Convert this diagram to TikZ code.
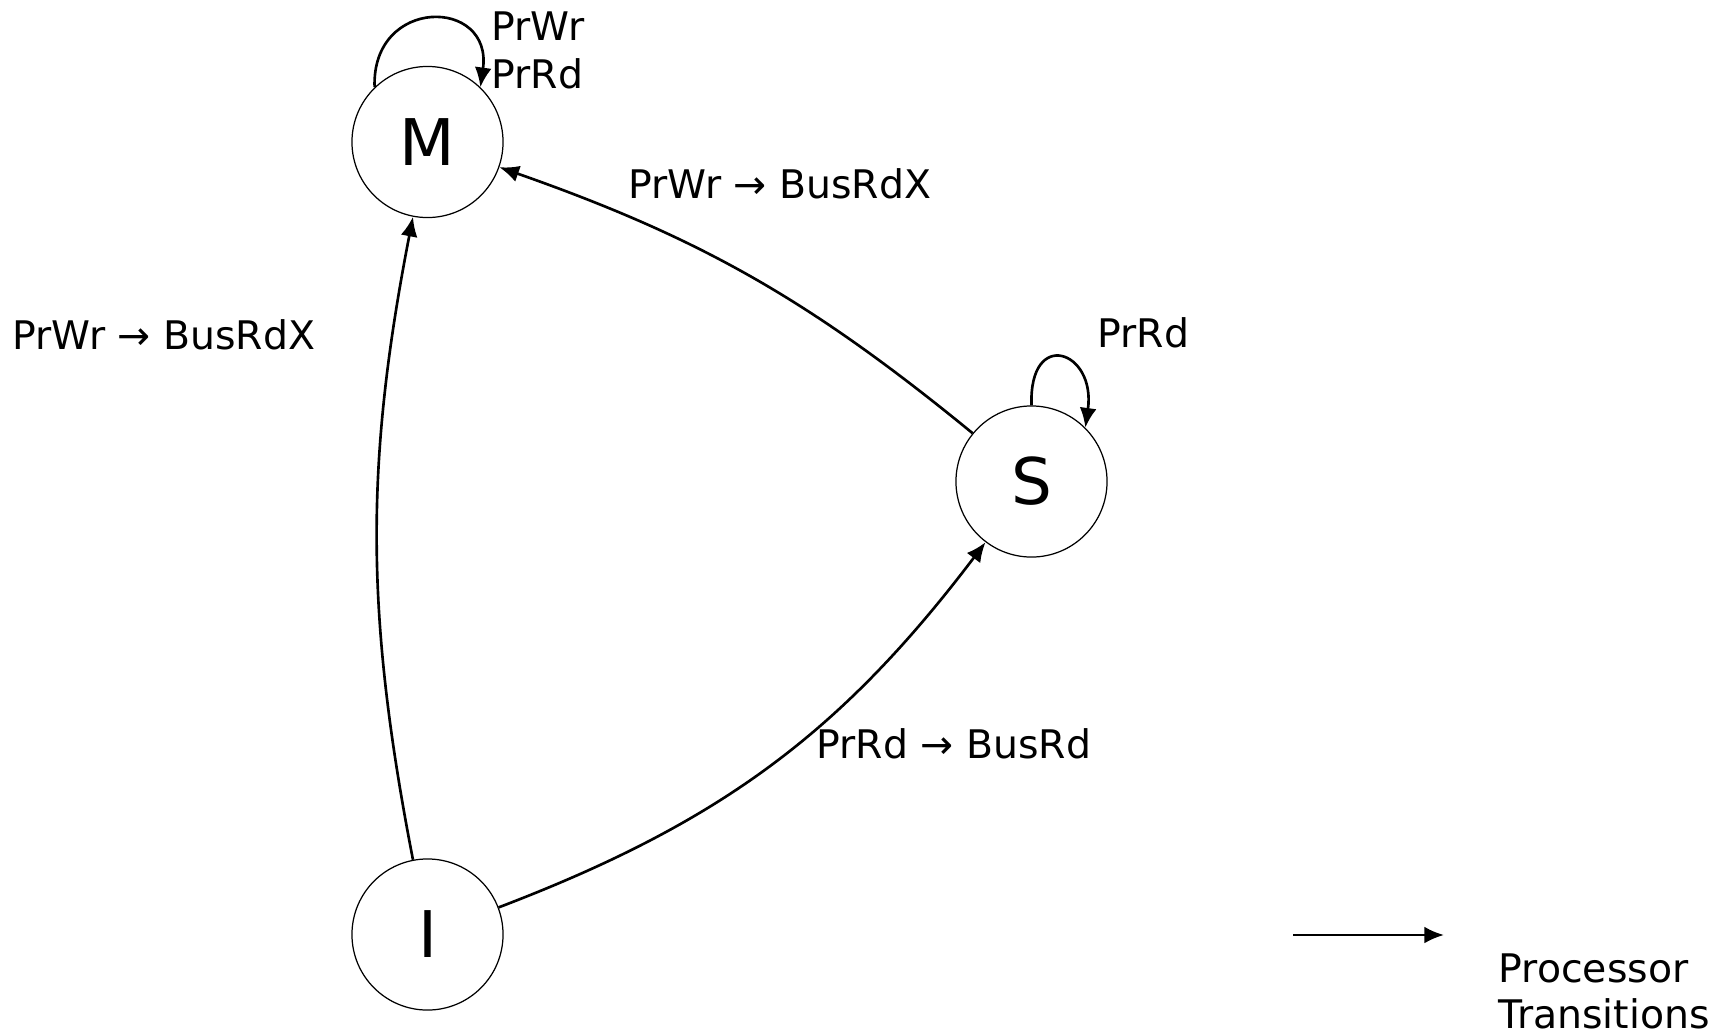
\documentclass[tikz,border=0pt]{standalone}
\usepackage{fontspec}
\setmainfont{DejaVu Sans}
\usetikzlibrary{arrows.meta}
\begin{document}
\begin{tikzpicture}[x=0.01cm,y=-0.01cm,
  state/.style={circle,draw,line width=0.35pt,minimum size=1.51cm,inner sep=0pt,
    font=\fontsize{18.3}{22}\selectfont},
  edge/.style={line width=0.75pt,-{Latex[length=5.6pt,width=4.8pt]}},
  lbl/.style={anchor=base west,inner sep=0pt,text depth=0pt,font=\fontsize{11.2}{13.7}\selectfont}]
\useasboundingbox (0,0) rectangle (1727,1033);

% states
\node[state] (M) at (427.5,142) {M};
\node[state] (S) at (1031.5,481.5) {S};
\node[state] (I) at (427.5,934.5) {I};

% transitions
\draw[edge] (I) to[bend left=11] (M);
\draw[edge] (S) to[bend right=10] (M);
\draw[edge] (I) to[bend right=16] (S);
\draw[edge] (M.134) .. controls +(92:0.91cm) and +(82:0.91cm) .. (M.46);
\draw[edge] (S.90) .. controls +(92:0.78cm) and +(82:0.78cm) .. (S.45.5);

% transition labels
\node[lbl] (tSM) at (628,198) {PrWr → BusRdX};
\node[lbl] (tIM) at (12,349) {PrWr → BusRdX};
\node[lbl] (tIS) at (816,758) {PrRd → BusRd};
\node[lbl] (tSS) at (1097,347) {PrRd};
\node[lbl] (tMM1) at (491,40) {PrWr};
\node[lbl] (tMM2) at (491,88) {PrRd};

% legend
\coordinate (la) at (1293,935);
\coordinate (lb) at (1444,935);
\draw[edge] (la) -- (lb);
\node[lbl] (leg1) at (1498,982) {Processor};
\node[lbl] (leg2) at (1498,1028) {Transitions};
\end{tikzpicture}
\end{document}
